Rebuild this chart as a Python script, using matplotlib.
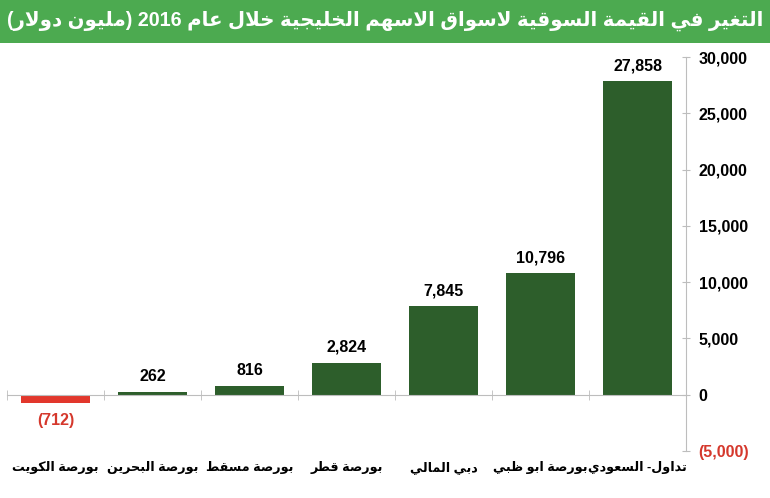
import re
import numpy as np
import matplotlib
matplotlib.use('Agg')
import matplotlib.pyplot as plt
from matplotlib.patches import Rectangle
from matplotlib.ticker import FuncFormatter, FixedLocator

plt.rcParams['font.family'] = ['Liberation Sans', 'DejaVu Sans']
plt.rcParams['font.weight'] = 'bold'

##### data
title = 'التغير في القيمة السوقية لاسواق الاسهم الخليجية خلال عام 2016 (مليون دولار)'
markets = ['بورصة الكويت', 'بورصة البحرين', 'بورصة مسقط', 'بورصة قطر',
           'دبي المالي', 'بورصة ابو ظبي', 'تداول- السعودي']
change = [-712, 262, 816, 2824, 7845, 10796, 27858]
y_ticks = [-5000, 0, 5000, 10000, 15000, 20000, 25000, 30000]

GREEN = '#2d5e2b'
RED = '#e2372c'
RED_TXT = '#d5382c'

##### arabic shaping (matplotlib has no complex text layout)
# letter -> (isolated form code point, number of forms)
AR_FORMS = {
    'ا': (0xFE8D, 2), 'ب': (0xFE8F, 4), 'ة': (0xFE93, 2), 'ت': (0xFE95, 4),
    'ث': (0xFE99, 4), 'ج': (0xFE9D, 4), 'ح': (0xFEA1, 4), 'خ': (0xFEA5, 4),
    'د': (0xFEA9, 2), 'ذ': (0xFEAB, 2), 'ر': (0xFEAD, 2), 'ز': (0xFEAF, 2),
    'س': (0xFEB1, 4), 'ش': (0xFEB5, 4), 'ص': (0xFEB9, 4), 'ض': (0xFEBD, 4),
    'ط': (0xFEC1, 4), 'ظ': (0xFEC5, 4), 'ع': (0xFEC9, 4), 'غ': (0xFECD, 4),
    'ف': (0xFED1, 4), 'ق': (0xFED5, 4), 'ك': (0xFED9, 4), 'ل': (0xFEDD, 4),
    'م': (0xFEE1, 4), 'ن': (0xFEE5, 4), 'ه': (0xFEE9, 4), 'و': (0xFEED, 2),
    'ى': (0xFEEF, 2), 'ي': (0xFEF1, 4),
}
MIRROR = str.maketrans('()', ')(')


def dual(c):
    return c in AR_FORMS and AR_FORMS[c][1] == 4


def shape(text):
    out = []
    i = 0
    while i < len(text):
        c = text[i]
        if c not in AR_FORMS:
            out.append(c)
            i += 1
            continue
        link_prev = i > 0 and dual(text[i - 1])
        if c == 'ل' and i + 1 < len(text) and text[i + 1] == 'ا':
            out.append(chr(0xFEFC if link_prev else 0xFEFB))
            i += 2
            continue
        nxt = text[i + 1] if i + 1 < len(text) else ''
        base, n = AR_FORMS[c]
        link_next = n == 4 and nxt in AR_FORMS
        if link_prev and link_next:
            off = 3
        elif link_prev:
            off = 1
        elif link_next:
            off = 2
        else:
            off = 0
        out.append(chr(base + off))
        i += 1
    return ''.join(out)


def ar(text):
    runs = re.findall(r'[0-9.,]+|[^0-9.,]+', shape(text))
    out = []
    for r in reversed(runs):
        if r[0].isdigit():
            out.append(r)
        else:
            out.append(r[::-1].translate(MIRROR))
    return ''.join(out)


def fmt(v):
    return f'({abs(v):,.0f})' if v < 0 else f'{v:,.0f}'


##### figure
fig = plt.figure(figsize=(7.7, 4.98), dpi=100)
fig.patches.append(Rectangle((0, 1 - 43 / 498), 1, 43 / 498, transform=fig.transFigure,
                             facecolor='#4caa50', edgecolor='none', zorder=0))
t = fig.text(0.5, 1 - 21 / 498, ar(title), color='white', fontsize=15, fontweight='bold',
             ha='center', va='center')
# shrink the title until it spans about the same width as in the reference (~752 px)
renderer = fig.canvas.get_renderer()
w = t.get_window_extent(renderer).width
t.set_fontsize(15 * 752 / w)

ax = fig.add_axes([7 / 770, 1 - 451 / 498, 679 / 770, 394 / 498])
x = np.arange(len(markets))
colors = [RED if v < 0 else GREEN for v in change]
ax.bar(x, change, width=0.72, color=colors, zorder=2)

for xi, v in zip(x, change):
    if v < 0:
        ax.annotate(fmt(v), (xi, v), xytext=(0, -10), textcoords='offset pixels',
                    ha='center', va='top', fontsize=11.5, color=RED_TXT, fontweight='bold')
    else:
        ax.annotate(fmt(v), (xi, v), xytext=(0, 8), textcoords='offset pixels',
                    ha='center', va='bottom', fontsize=11.5, color='black', fontweight='bold')

ax.set_xlim(-0.5, len(markets) - 0.5)
ax.set_ylim(y_ticks[0], y_ticks[-1])

for s in ['top', 'left']:
    ax.spines[s].set_visible(False)
ax.spines['right'].set_color('#bdbdbd')
ax.spines['bottom'].set_color('#bdbdbd')
ax.spines['bottom'].set_position(('data', 0))

ax.yaxis.tick_right()
ax.set_yticks(y_ticks)
ax.yaxis.set_major_formatter(FuncFormatter(lambda v, p: fmt(v)))
ax.tick_params(axis='y', direction='inout', length=6, color='#bdbdbd', pad=6, labelsize=11.5)
for lbl, v in zip(ax.get_yticklabels(), y_ticks):
    lbl.set_fontweight('bold')
    if v < 0:
        lbl.set_color(RED_TXT)

ax.set_xticks(x)
ax.set_xticklabels([ar(m) for m in markets], fontsize=9.2, fontweight='bold')
ax.xaxis.set_minor_locator(FixedLocator(np.arange(-0.5, len(markets), 1)))
ax.tick_params(axis='x', which='major', length=0, pad=48)
ax.tick_params(axis='x', which='minor', direction='inout', length=7, color='#bdbdbd')

fig.savefig('out.png', dpi=100)
